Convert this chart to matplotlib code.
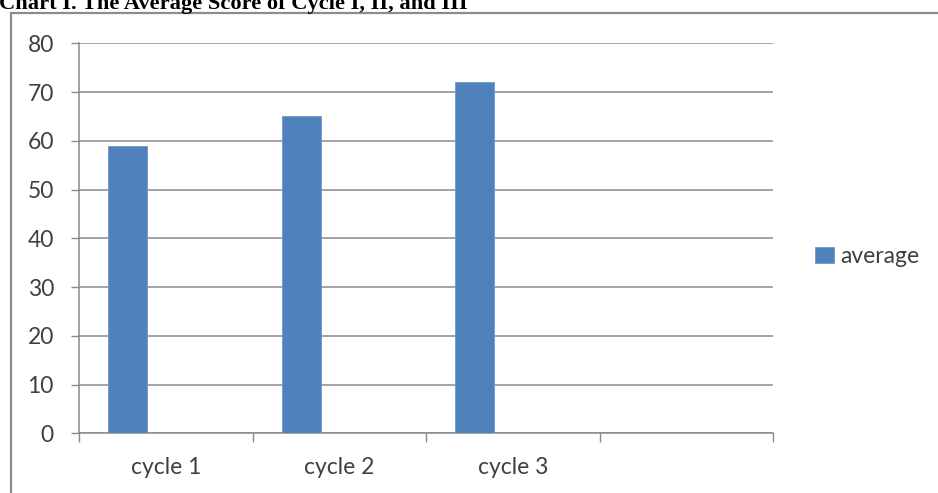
import numpy as np
import matplotlib
matplotlib.use("Agg")
import matplotlib.pyplot as plt
from matplotlib.patches import Rectangle

# Data
categories = ['cycle 1', 'cycle 2', 'cycle 3', '']
values = [59, 65, 72]
series_name = 'average'
title = 'Chart I. The Average Score of Cycle I, II, and III'

plt.rcParams['font.family'] = ['Lato', 'DejaVu Sans']
fs = 16.5

fig = plt.figure(figsize=(9.38, 4.93), dpi=100)
ax = fig.add_axes([0.0842, 0.1211, 0.740, 0.7911])

# bars sit to the left of each category centre (Excel-like grouping)
x = np.arange(len(values))
bar_w = 0.225
ax.bar(x - 0.219, values, width=bar_w, color='#4F81BD', edgecolor='#6f98cc',
       linewidth=0.6, label=series_name, zorder=3)

ax.set_xlim(-0.5, len(categories) - 0.5)
ax.set_ylim(0, 80)
ax.set_yticks(range(0, 81, 10))
ax.yaxis.grid(True, color='#8a8a8a', linewidth=1.1, zorder=0)
ax.set_axisbelow(True)

# category boundaries as major ticks, labels on minor ticks
ax.set_xticks(np.arange(len(categories) + 1) - 0.5)
ax.set_xticklabels([])
ax.set_xticks(np.arange(len(categories)), minor=True)
ax.set_xticklabels(categories, minor=True)
ax.tick_params(axis='x', which='major', length=6.5, width=1, color='#8a8a8a')
ax.tick_params(axis='x', which='minor', length=0, pad=17, labelsize=fs, labelcolor='#404040')
ax.tick_params(axis='y', length=6, width=1, color='#8a8a8a', pad=12,
               labelsize=fs, labelcolor='#404040')

for s in ['top', 'right']:
    ax.spines[s].set_visible(False)
for s in ['left', 'bottom']:
    ax.spines[s].set_color('#8a8a8a')
    ax.spines[s].set_linewidth(1.1)

# legend on the right
fig.legend(loc='center left', bbox_to_anchor=(0.869, 0.479), frameon=False,
           fontsize=fs, handlelength=0.83, handleheight=0.7, handletextpad=0.25,
           borderpad=0, borderaxespad=0, labelcolor='#404040')

# chart outer border (cut off by the image at right and bottom)
fig.patches.append(Rectangle((10.5 / 938, -0.1), 1.2, 1 - 13 / 493 + 0.1,
                             transform=fig.transFigure, fill=False,
                             edgecolor='#8c8c8c', linewidth=1.6))

# title, clipped at the top like the source
fig.text(-0.001, 1 - 9 / 493, title, family='Liberation Serif', fontweight='bold',
         fontsize=16.2, va='baseline', ha='left', color='black')

fig.savefig('out.png', dpi=100)
